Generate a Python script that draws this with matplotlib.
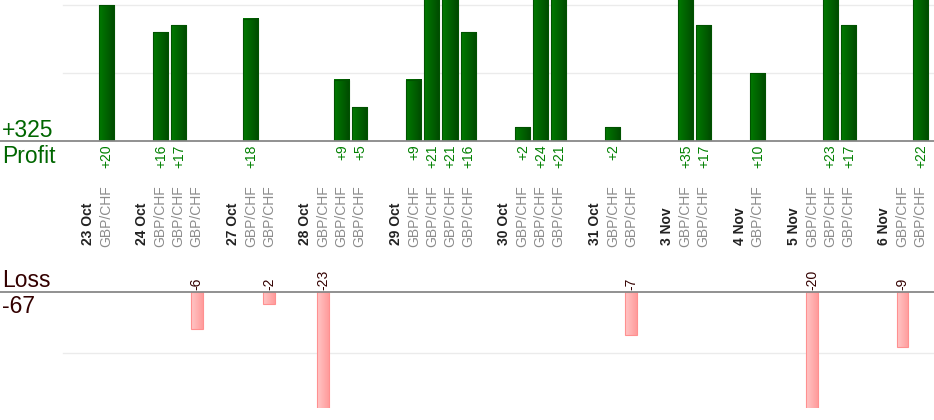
import matplotlib.pyplot as plt
import numpy as np
from matplotlib.colors import LinearSegmentedColormap

plt.rcParams['font.family'] = ['Liberation Sans', 'DejaVu Sans']

# trading days and the result of each trade on that day
days = ["23 Oct", "24 Oct", "27 Oct", "28 Oct", "29 Oct", "30 Oct",
        "31 Oct", "3 Nov", "4 Nov", "5 Nov", "6 Nov"]
trades = [[20], [16, 17, -6], [18, -2], [-23, 9, 5], [9, 21, 21, 16],
          [2, 24, 21], [2, -7], [35, 17], [10], [-20, 23, 17], [-9, 22]]
pair = "GBP/CHF"

# lay out slots: date label, trades, blank gap
date_x, trade_x, trade_v = [], [], []
pos = 0
for day, vals in zip(days, trades):
    date_x.append(pos)
    pos += 1
    for v in vals:
        trade_x.append(pos)
        trade_v.append(v)
        pos += 1
    pos += 1
trade_x = np.array(trade_x)
trade_v = np.array(trade_v)
win = trade_v > 0
total_profit = trade_v[win].sum()
total_loss = trade_v[~win].sum()

W, H = 934, 420
fig = plt.figure(figsize=(W / 100, H / 100), dpi=100)

slot = 18.1          # pixels per slot
x0_px = 88           # pixel centre of slot 0
xlim = (-x0_px / slot, (W - x0_px) / slot)

ax_p = fig.add_axes([0, (H - 141) / H, 1, 141 / H])
ax_l = fig.add_axes([0, (H - 408) / H, 1, 116 / H])


def gradient_bars(ax, bars, c_left, c_right):
    grad = np.linspace(0, 1, 32).reshape(1, -1)
    cmap = LinearSegmentedColormap.from_list('g', [c_left, c_right])
    for b in bars:
        x, y = b.get_x(), b.get_y()
        w, h = b.get_width(), b.get_height()
        ax.imshow(grad, cmap=cmap, aspect='auto', interpolation='bilinear',
                  extent=[x, x + w, y, y + h], zorder=2)


# profit panel
pb = ax_p.bar(trade_x[win], trade_v[win], width=0.83, facecolor='none',
              edgecolor='#005200', linewidth=0.8, zorder=3)
gradient_bars(ax_p, pb, '#007a00', '#004a00')
ax_p.set_xlim(*xlim)
ax_p.set_ylim(0, 141 / 6.8)
for g in (10, 20):
    ax_p.axhline(g, xmin=63 / W, xmax=1, color='#ebebeb', lw=1, zorder=1)
ax_p.axhline(0, color='#888888', lw=1.3, zorder=4, clip_on=False)

for x, v in zip(trade_x[win], trade_v[win]):
    ax_p.annotate(f'+{v}', xy=(x, 0), xytext=(0.5, -2.5), textcoords='offset points',
                  rotation=90, ha='center', va='top', fontsize=10,
                  color='#008000', annotation_clip=False)

for x in trade_x:
    ax_p.annotate(pair, xy=(x, 0), xytext=(0, -76), textcoords='offset points',
                  rotation=90, ha='center', va='bottom', fontsize=10,
                  color='#8c8c8c', annotation_clip=False)
for x, d in zip(date_x, days):
    ax_p.annotate(d, xy=(x, 0), xytext=(0, -75), textcoords='offset points',
                  rotation=90, ha='center', va='bottom', fontsize=10,
                  fontweight='bold', color='#222222', annotation_clip=False)

# loss panel
lb = ax_l.bar(trade_x[~win], trade_v[~win], width=0.66, facecolor='none',
              edgecolor='#ff9090', linewidth=0.8, zorder=3)
gradient_bars(ax_l, lb, '#ffc6c6', '#ff9c9c')
ax_l.set_xlim(*xlim)
ax_l.set_ylim(-116 / 6.1, 0)
ax_l.axhline(-10, xmin=63 / W, xmax=1, color='#ebebeb', lw=1, zorder=1)
ax_l.axhline(0, color='#888888', lw=1.3, zorder=4, clip_on=False)

for x, v in zip(trade_x[~win], trade_v[~win]):
    ax_l.annotate(f'{v}', xy=(x, 0), xytext=(0, 1.5), textcoords='offset points',
                  rotation=90, ha='center', va='bottom', fontsize=10,
                  color='#330000', annotation_clip=False)

for ax in (ax_p, ax_l):
    ax.axis('off')

# totals
fig.text(2 / W, 1 - 137 / H, f'+{total_profit}', fontsize=16.5, color='#006600',
         va='baseline', ha='left')
fig.text(2 / W, 1 - 163 / H, 'Profit', fontsize=16.5, color='#006600',
         va='baseline', ha='left')
fig.text(2 / W, 1 - 287 / H, 'Loss', fontsize=16.5, color='#330000',
         va='baseline', ha='left')
fig.text(2 / W, 1 - 313 / H, f'{total_loss}', fontsize=16.5, color='#330000',
         va='baseline', ha='left')

fig.savefig('out.png', dpi=100)
